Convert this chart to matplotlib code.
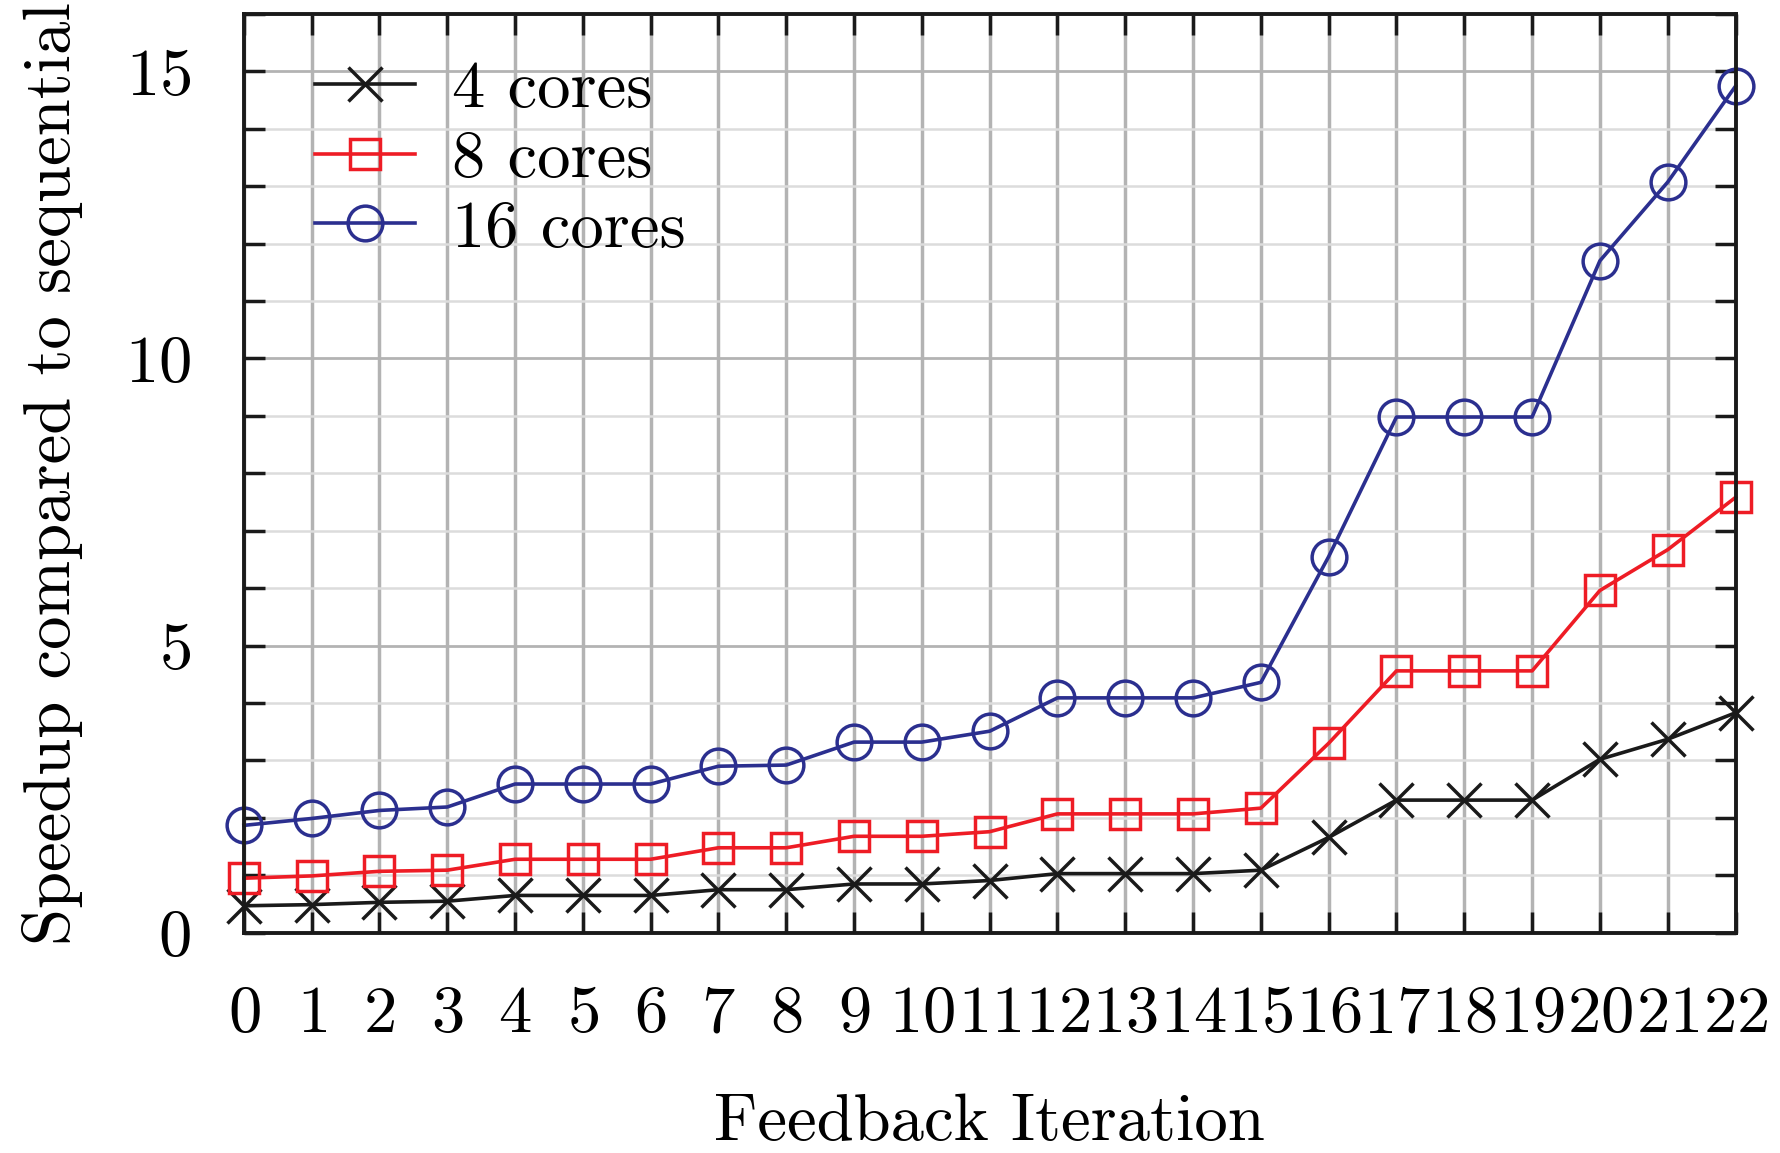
import numpy as np
import matplotlib.pyplot as plt

plt.rcParams['font.family'] = ['cmr10', 'DejaVu Serif']
plt.rcParams['mathtext.fontset'] = 'cm'
plt.rcParams['axes.formatter.use_mathtext'] = True

# data
iterations = list(range(23))
cores4 = [0.47, 0.49, 0.53, 0.55, 0.65, 0.65, 0.65, 0.75, 0.75, 0.85, 0.85, 0.91,
          1.03, 1.03, 1.03, 1.09, 1.66, 2.31, 2.31, 2.31, 3.02, 3.37, 3.83]
cores8 = [0.95, 0.99, 1.07, 1.09, 1.28, 1.28, 1.28, 1.48, 1.48, 1.68, 1.68, 1.76,
          2.07, 2.07, 2.07, 2.17, 3.30, 4.56, 4.56, 4.56, 5.96, 6.67, 7.58]
cores16 = [1.87, 1.99, 2.13, 2.19, 2.59, 2.59, 2.59, 2.90, 2.92, 3.32, 3.32, 3.51,
           4.09, 4.09, 4.09, 4.36, 6.55, 8.98, 8.98, 8.98, 11.70, 13.07, 14.74]
labels = ['4 cores', '8 cores', '16 cores']

fig = plt.figure(figsize=(17.8, 11.53), dpi=100)
ax = fig.add_axes([0.137, 0.191, 0.838, 0.797])

ax.plot(iterations, cores4, color='#1a1a1a', lw=2.6, marker='x', ms=24, mew=2.5,
        label=labels[0], clip_on=False, zorder=3)
ax.plot(iterations, cores8, color='#ee1c25', lw=2.6, marker='s', ms=21, mew=2.5,
        mfc='none', label=labels[1], clip_on=False, zorder=3)
ax.plot(iterations, cores16, color='#2b2f8f', lw=2.6, marker='o', ms=25, mew=2.5,
        mfc='none', label=labels[2], clip_on=False, zorder=3)

ax.set_xlim(0, 22)
ax.set_ylim(0, 16)
ax.set_xticks(iterations)
ax.set_yticks([0, 5, 10, 15])
ax.set_yticks(range(17), minor=True)

ax.grid(True, which='major', axis='x', color='#b3b3b3', lw=2.5)
ax.grid(True, which='major', axis='y', color='#b3b3b3', lw=2.0)
ax.grid(True, which='minor', axis='y', color='#dcdcdc', lw=1.8)
ax.set_axisbelow(True)

ax.tick_params(which='both', direction='in', top=True, right=True, length=15, width=2.5,
               labelsize=48, color='#1a1a1a')
ax.tick_params(axis='x', pad=38)
ax.tick_params(axis='y', pad=38)
for s in ax.spines.values():
    s.set_linewidth(2.8)
    s.set_color('#1a1a1a')
    s.set_zorder(4)

ax.set_xlabel('Feedback Iteration', fontsize=48, labelpad=35)
ax.set_ylabel('Speedup compared to sequential', fontsize=48, labelpad=30)

ax.legend(loc='upper left', frameon=False, fontsize=48, handlelength=1.5,
          handletextpad=0.55, labelspacing=0.15, borderaxespad=0, borderpad=0,
          bbox_to_anchor=(0.048, 0.949))

fig.savefig('out.png', dpi=100)
